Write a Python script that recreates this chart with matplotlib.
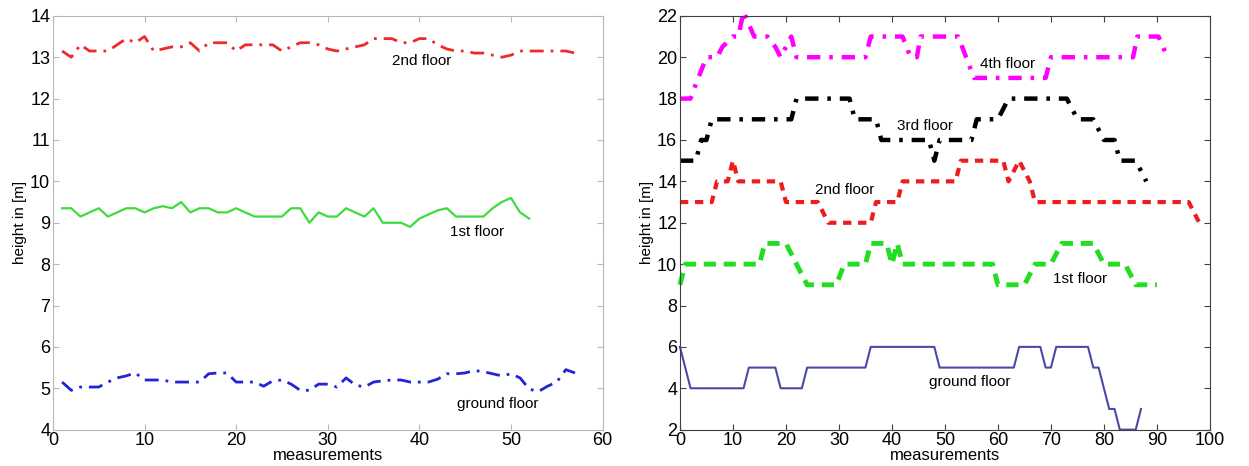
import numpy as np
import matplotlib.pyplot as plt
from matplotlib import font_manager

#### data: left panel (one value per measurement)
meas_2nd = np.arange(1, 58)
h_2nd = [13.15, 13.0, 13.3, 13.15, 13.15, 13.15, 13.3, 13.45, 13.35, 13.5,
         13.15, 13.2, 13.25, 13.25, 13.35, 13.15, 13.35, 13.35, 13.35, 13.15,
         13.3, 13.3, 13.3, 13.3, 13.15, 13.25, 13.35, 13.35, 13.3, 13.2,
         13.15, 13.2, 13.25, 13.3, 13.45, 13.45, 13.45, 13.35, 13.35, 13.45,
         13.45, 13.3, 13.2, 13.15, 13.15, 13.1, 13.1, 13.05, 13.0, 13.05,
         13.15, 13.15, 13.15, 13.15, 13.15, 13.15, 13.1]

meas_1st = np.arange(1, 53)
h_1st = [9.35, 9.35, 9.15, 9.25, 9.35, 9.15, 9.25, 9.35, 9.35, 9.25,
         9.35, 9.4, 9.35, 9.5, 9.25, 9.35, 9.35, 9.25, 9.25, 9.35,
         9.25, 9.15, 9.15, 9.15, 9.15, 9.35, 9.35, 9.0, 9.25, 9.15,
         9.15, 9.35, 9.25, 9.15, 9.35, 9.0, 9.0, 9.0, 8.9, 9.1,
         9.2, 9.3, 9.35, 9.15, 9.15, 9.15, 9.15, 9.35, 9.5, 9.6,
         9.25, 9.1]

meas_gnd = np.arange(1, 58)
h_gnd = [5.15, 4.95, 5.03, 5.03, 5.03, 5.15, 5.25, 5.3, 5.37, 5.2,
         5.2, 5.2, 5.15, 5.15, 5.15, 5.15, 5.35, 5.37, 5.37, 5.15,
         5.15, 5.15, 5.05, 5.18, 5.2, 5.1, 4.95, 4.95, 5.1, 5.1,
         5.03, 5.25, 5.08, 5.03, 5.15, 5.18, 5.2, 5.2, 5.15, 5.15,
         5.15, 5.22, 5.35, 5.35, 5.37, 5.43, 5.4, 5.35, 5.3, 5.35,
         5.25, 4.98, 4.92, 5.05, 5.15, 5.45, 5.37]

#### data: right panel (corner points of the step-like tracks)
x_4th = [0, 2, 3, 5, 7, 8, 10, 11, 12, 14, 16.5, 18, 19, 20, 21, 22, 35, 36,
         42, 43.5, 44.7, 45.4, 52.5, 54, 55.5, 69, 70, 85.5, 86.3, 90.3, 92]
h_4th = [18, 18, 18.7, 20, 20, 20.5, 21, 21, 22.2, 21, 21, 20.5, 20, 20.5, 21,
         20, 20, 21, 21, 20, 20, 21, 21, 20, 19, 19, 20, 20, 21, 21, 20]

x_3rd = [0, 3, 4, 5, 6, 21, 22, 32, 33, 37, 38, 47, 48, 49, 55, 56, 60, 62,
         73, 75, 78, 80, 82, 83, 86, 88]
h_3rd = [15, 15, 16, 16, 17, 17, 18, 18, 17, 17, 16, 16, 15, 16, 16, 17, 17,
         18, 18, 17, 17, 16, 16, 15, 15, 14]

x_2nd = [0, 6, 7, 9, 10, 11, 19, 20, 26, 28, 36, 37, 41, 42, 52, 53, 61, 62,
         63, 64, 66, 67, 96, 98]
h_2nd_r = [13, 13, 14, 14, 15, 14, 14, 13, 13, 12, 12, 13, 13, 14, 14, 15, 15,
           14, 14.5, 15, 14, 13, 13, 12]

x_1st = [0, 1, 15, 16, 20, 21, 24, 29.5, 31, 35, 36, 39, 40, 41, 42, 59, 60,
         65, 67, 70, 72, 78, 80, 84, 86, 90]
h_1st_r = [9, 10, 10, 11, 11, 10.5, 9, 9, 10, 10, 11, 11, 10, 11, 10, 10, 9,
           9, 10, 10, 11, 11, 10, 10, 9, 9]

x_gnd = [0, 2, 12, 13, 18, 19, 23, 24, 35, 36, 48, 49, 63, 64, 68, 69, 70,
         71, 77, 78, 79, 81, 82, 83, 86, 87]
h_gnd_r = [6, 4, 4, 5, 5, 4, 4, 5, 5, 6, 6, 5, 5, 6, 6, 5, 5, 6, 6, 5, 5, 3,
           3, 2, 2, 3]

#### fonts
installed = {f.name for f in font_manager.fontManager.ttflist}
narrow = 'Liberation Sans Narrow' if 'Liberation Sans Narrow' in installed else 'Liberation Sans'
plt.rcParams['font.family'] = ['Liberation Sans', 'DejaVu Sans']

fig = plt.figure(figsize=(12.49, 4.66), dpi=100)
ax1 = fig.add_axes([0.0424, 0.078, 0.440, 0.888])
ax2 = fig.add_axes([0.5444, 0.078, 0.4243, 0.888])


def style_axes(ax, edge):
    for sp in ax.spines.values():
        sp.set_color(edge)
        sp.set_linewidth(0.8)
    ax.tick_params(direction='in', top=True, right=True, length=4,
                   color=edge, labelsize=13, pad=2)
    for lab in ax.get_xticklabels() + ax.get_yticklabels():
        lab.set_family(narrow)
    ax.set_xlabel('measurements', fontsize=12, labelpad=-1)
    ax.set_ylabel('height in [m]', fontsize=11, labelpad=2)


# left: measured heights
ax1.plot(meas_2nd, h_2nd, color='#ee2a2a', lw=2, ls=(0, (5, 2.5, 1, 2.5)))
ax1.plot(meas_1st, h_1st, color='#3ddc3d', lw=1.6, ls='-')
ax1.plot(meas_gnd, h_gnd, color='#2323d8', lw=2, ls=(0, (5, 2.5, 1, 2.5)))
ax1.set_xlim(0, 60)
ax1.set_ylim(4, 14)
ax1.set_xticks(range(0, 61, 10))
ax1.set_yticks(range(4, 15))
style_axes(ax1, '#b8b8b8')
ax1.text(37, 12.9, '2nd floor', fontsize=11, va='center')
ax1.text(43.3, 8.78, '1st floor', fontsize=11, va='center')
ax1.text(44.1, 4.62, 'ground floor', fontsize=11, va='center')

# right: floor tracks
ax2.plot(x_4th, h_4th, color='#ff00ff', lw=3.2, ls=(0, (3, 2, 0.8, 2)), clip_on=False)
ax2.plot(x_3rd, h_3rd, color='black', lw=3.2, ls=(0, (3, 2, 0.8, 2)), clip_on=False)
ax2.plot(x_2nd, h_2nd_r, color='#ee1c1c', lw=3, ls=(0, (2, 1.6)), clip_on=False)
ax2.plot(x_1st, h_1st_r, color='#22dd22', lw=3.5, ls=(0, (2.5, 1.6)), clip_on=False)
ax2.plot(x_gnd, h_gnd_r, color='#4a4aa6', lw=1.5, ls='-', clip_on=False)
ax2.set_xlim(0, 100)
ax2.set_ylim(2, 22)
ax2.set_xticks(range(0, 101, 10))
ax2.set_yticks(range(2, 23, 2))
style_axes(ax2, '#404040')
ax2.text(56.6, 19.67, '4th floor', fontsize=11, va='center')
ax2.text(41, 16.7, '3rd floor', fontsize=11, va='center')
ax2.text(25.4, 13.6, '2nd floor', fontsize=11, va='center')
ax2.text(70.3, 9.3, '1st floor', fontsize=11, va='center')
ax2.text(46.9, 4.3, 'ground floor', fontsize=11, va='center')

fig.savefig('out.png', dpi=100)
